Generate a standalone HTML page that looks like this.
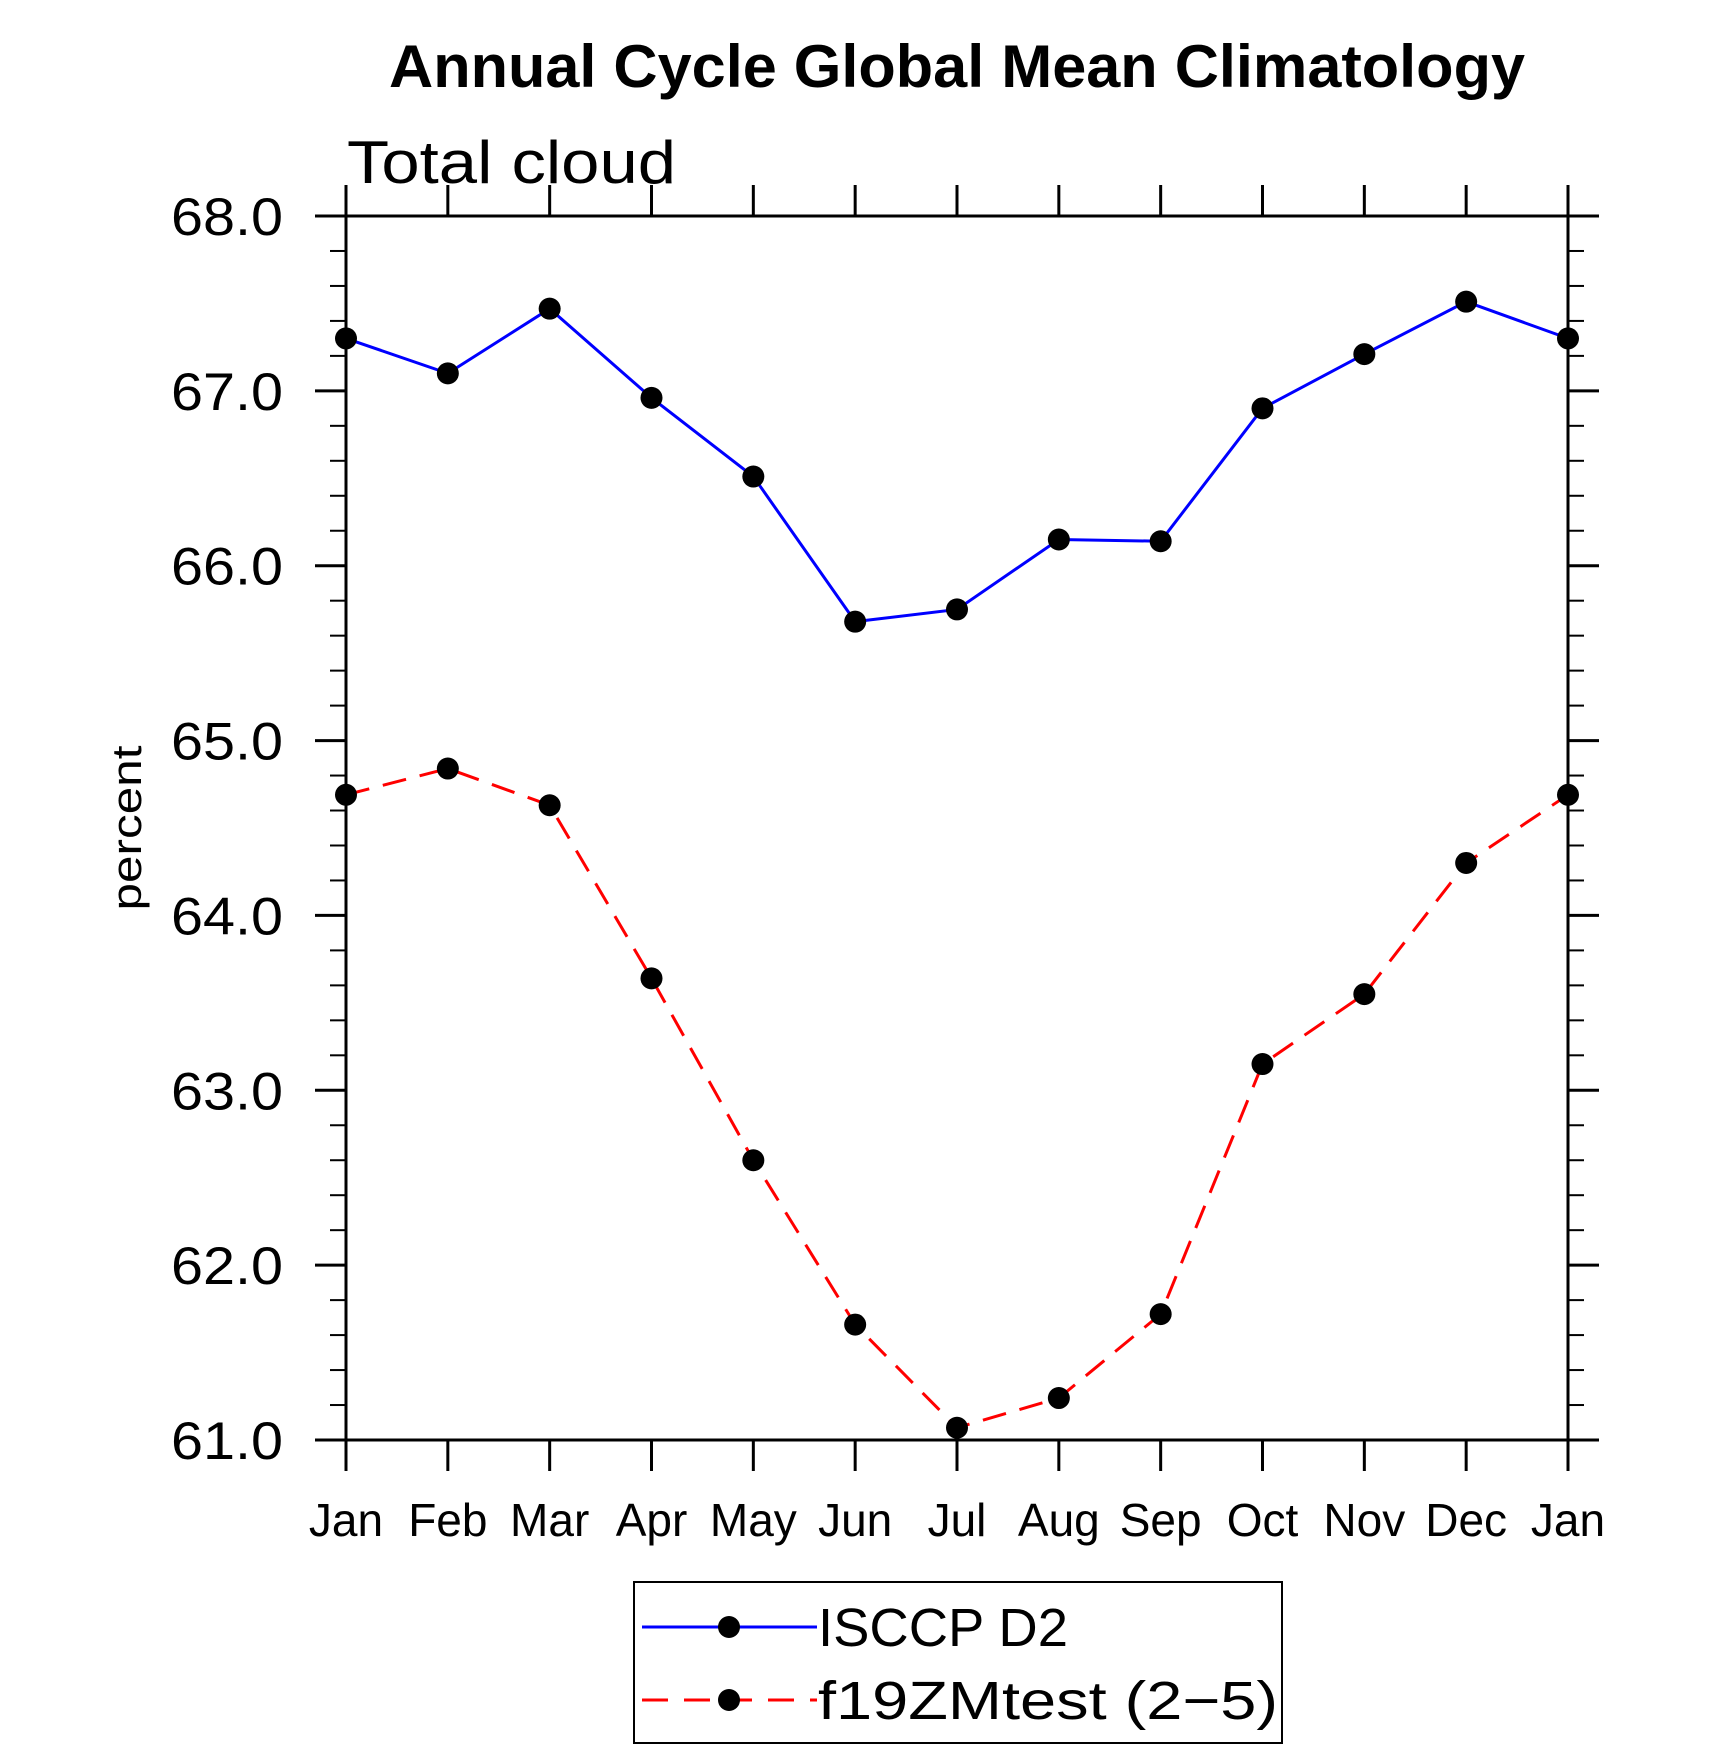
<!DOCTYPE html>
<html><head><meta charset="utf-8"><style>
body{margin:0;background:#fff;}
svg{display:block;font-family:"Liberation Sans",sans-serif;}
</style></head><body>
<svg id="chart" width="1710" height="1751" viewBox="0 0 1710 1751" xmlns="http://www.w3.org/2000/svg">
<text x="957" y="87" text-anchor="middle" font-weight="bold" font-size="60" textLength="1136" lengthAdjust="spacingAndGlyphs">Annual Cycle Global Mean Climatology</text>
<text x="347" y="183" font-size="60" textLength="329" lengthAdjust="spacingAndGlyphs">Total cloud</text>
<text transform="translate(141,828) rotate(-90)" text-anchor="middle" font-size="42" textLength="165" lengthAdjust="spacingAndGlyphs">percent</text>
<g id="axes"></g>
<g id="series"></g>
<g>
<rect x="634" y="1582" width="648" height="161" fill="none" stroke="#000" stroke-width="2"/>
<g>
<line x1="642" y1="1627" x2="817" y2="1627" stroke="#0000ff" stroke-width="3"/>
<circle cx="729" cy="1627" r="11"/>
<text x="818" y="1646" font-size="54" textLength="250" lengthAdjust="spacingAndGlyphs">ISCCP D2</text>
</g>
<g>
<line x1="642" y1="1700" x2="817" y2="1700" stroke="#ff0000" stroke-width="3" stroke-dasharray="26,16"/>
<circle cx="729" cy="1700" r="11"/>
<text x="818" y="1719" font-size="54" textLength="460" lengthAdjust="spacingAndGlyphs">f19ZMtest (2−5)</text>
</g>
</g>
</svg>
<script>
const months = ["Jan","Feb","Mar","Apr","May","Jun","Jul","Aug","Sep","Oct","Nov","Dec","Jan"];
const isccp = [67.30,67.10,67.47,66.96,66.51,65.68,65.75,66.15,66.14,66.90,67.21,67.51,67.30];
const f19zm = [64.69,64.84,64.63,63.64,62.60,61.66,61.07,61.24,61.72,63.15,63.55,64.30,64.69];
const yTickLabels = ["61.0","62.0","63.0","64.0","65.0","66.0","67.0","68.0"];
const yMin = 61, yMax = 68;

const L=346,R=1568,T=216,B=1440;
const NS="http://www.w3.org/2000/svg";
function xs(i){return L+(R-L)*i/(months.length-1);}
function ys(v){return B-(B-T)*(v-yMin)/(yMax-yMin);}
function mk(tag,attrs,parent){const e=document.createElementNS(NS,tag);for(const k in attrs)e.setAttribute(k,attrs[k]);parent.appendChild(e);return e;}
const ax=document.getElementById('axes');
const frame=mk('rect',{x:L,y:T,width:R-L,height:B-T,fill:'none',stroke:'#000','stroke-width':3},ax);


months.forEach((m,i)=>{
  const x=xs(i);
  const t1=mk('line',{x1:x,y1:B,x2:x,y2:B+31,stroke:'#000','stroke-width':3},ax);
  
  
  const t2=mk('line',{x1:x,y1:T,x2:x,y2:T-31,stroke:'#000','stroke-width':3},ax);
  
  
  const tx=mk('text',{x:x,y:1536,'text-anchor':'middle','font-size':46},ax);
  tx.textContent=m;
  
  
});
for(let k=0;k<=(yMax-yMin)*5;k++){
  const v=yMin+k/5, y=ys(v), major=(k%5===0), len=major?31:16;
  const a=mk('line',{x1:L-len,y1:y,x2:L,y2:y,stroke:'#000','stroke-width':major?3:2},ax);
  
  
  const b=mk('line',{x1:R,y1:y,x2:R+len,y2:y,stroke:'#000','stroke-width':major?3:2},ax);
  
  
}
yTickLabels.forEach(s=>{
  const v=parseFloat(s);
  const t=mk('text',{x:283,y:ys(v)+19,'text-anchor':'end','font-size':53,textLength:112,lengthAdjust:'spacingAndGlyphs'},ax);
  t.textContent=s;
  
  
});
const sg=document.getElementById('series');
function draw(vals,color,dash,name){
  const g=mk('g',{},sg);
  
  
  const p=mk('polyline',{points:vals.map((v,i)=>xs(i)+','+ys(v)).join(' '),fill:'none',stroke:color,'stroke-width':3},g);
  if(dash)p.setAttribute('stroke-dasharray',dash);
  
  
  vals.forEach((v,i)=>{
    const c=mk('circle',{cx:xs(i),cy:ys(v),r:11,fill:'#000'},g);
    
    
  });
}
draw(isccp,'#0000ff',null,'series-isccp-d2');
draw(f19zm,'#ff0000','24,14','series-f19zmtest');
</script>
</body></html>
